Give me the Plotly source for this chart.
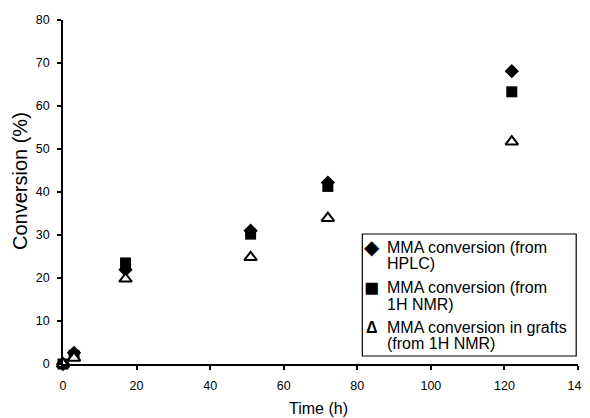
import plotly.graph_objects as go

time_h = [0, 3, 17, 51, 72, 122]
hplc = [0, 2.6, 21.9, 31.0, 42.2, 68.1]
nmr = [0, 2.0, 23.5, 30.2, 41.3, 63.3]
grafts = [0, 1.4, 19.8, 24.8, 33.9, 51.7]

series_names = [
    "MMA conversion (from HPLC)",
    "MMA conversion (from 1H NMR)",
    "MMA conversion in grafts (from 1H NMR)",
]
legend_lines = [
    ("◆", "MMA conversion (from", "HPLC)"),
    ("■", "MMA conversion (from", "1H NMR)"),
    ("Δ", "MMA conversion in grafts", "(from 1H NMR)"),
]

FONT = "Liberation Sans, Arial, sans-serif"
OFF = 8  # page body margin
W, H = 590 - OFF, 418 - OFF
L, R, T, B = 63 - OFF, 11.7, 20 - OFF, 54
PW, PH = W - L - R, H - T - B


def px(x):
    return (x - OFF - L) / PW


def py(y):
    return (H - B - (y - OFF)) / PH


fig = go.Figure()
fig.add_trace(go.Scatter(x=time_h, y=hplc, mode="markers", name=series_names[0],
                         marker=dict(symbol="diamond", size=11, color="black",
                                     line=dict(width=0))))
fig.add_trace(go.Scatter(x=time_h, y=nmr, mode="markers", name=series_names[1],
                         marker=dict(symbol="square", size=11, color="black",
                                     line=dict(width=0))))
fig.add_trace(go.Scatter(x=time_h, y=grafts, mode="markers", name=series_names[2],
                         marker=dict(symbol="triangle-up", size=11, color="white",
                                     line=dict(width=2, color="black"))))
fig.update_traces(cliponaxis=False)

# legend box drawn as in the original (symbol inline with first text line)
shapes = [dict(type="rect", xref="paper", yref="paper",
               x0=px(362.5), x1=px(576.5), y0=py(356), y1=py(234),
               line=dict(color="black", width=1.2), fillcolor="white", layer="above")]
annotations = []
line_y = [(247, 263.5), (287, 304.5), (327, 343)]
sym_text = {"◆": "◆", "■": "■", "Δ": "<b>Δ</b>"}
sym_size = {"◆": 20, "■": 25, "Δ": 16}
for (sym, l1, l2), (y1, y2) in zip(legend_lines, line_y):
    annotations.append(dict(xref="paper", yref="paper", x=px(372), y=py(y1),
                            text=sym_text[sym], showarrow=False, xanchor="center",
                            yanchor="middle",
                            font=dict(size=sym_size[sym], family=FONT, color="black")))
    annotations.append(dict(xref="paper", yref="paper", x=px(385), y=py(y1),
                            text=l1, showarrow=False, xanchor="left", yanchor="middle",
                            font=dict(size=16, family=FONT, color="black")))
    annotations.append(dict(xref="paper", yref="paper", x=px(385), y=py(y2),
                            text=l2, showarrow=False, xanchor="left", yanchor="middle",
                            font=dict(size=16, family=FONT, color="black")))

# axis titles
annotations.append(dict(xref="paper", yref="paper", x=px(319), y=py(408),
                        text="Time (h)", showarrow=False, xanchor="center",
                        yanchor="middle", font=dict(size=16, family=FONT, color="black")))
annotations.append(dict(xref="paper", yref="paper", x=px(20), y=py(181),
                        text="Conversion (%)", showarrow=False, textangle=-90,
                        xanchor="center", yanchor="middle",
                        font=dict(size=20, family=FONT, color="black")))

fig.update_layout(
    width=W, height=H,
    margin=dict(l=L, r=R, t=T, b=B, autoexpand=False),
    paper_bgcolor="white", plot_bgcolor="white",
    font=dict(family=FONT, color="black", size=12),
    showlegend=False,
    shapes=shapes,
    annotations=annotations,
    xaxis=dict(range=[0, 140], tickvals=[0, 20, 40, 60, 80, 100, 120, 140],
               showgrid=False, zeroline=False, showline=True, linecolor="black",
               linewidth=1.5, ticks="outside", ticklen=4, tickcolor="black",
               tickwidth=1.5, tickfont=dict(size=12.5), ticklabelstandoff=5,
               automargin=False),
    yaxis=dict(range=[0, 80], tickvals=[0, 10, 20, 30, 40, 50, 60, 70, 80],
               showgrid=False, zeroline=False, showline=True, linecolor="black",
               linewidth=1.5, ticks="outside", ticklen=4, tickcolor="black",
               tickwidth=1.5, tickfont=dict(size=12.5), ticklabelstandoff=5,
               automargin=False),
)

fig.write_html("out.html")
